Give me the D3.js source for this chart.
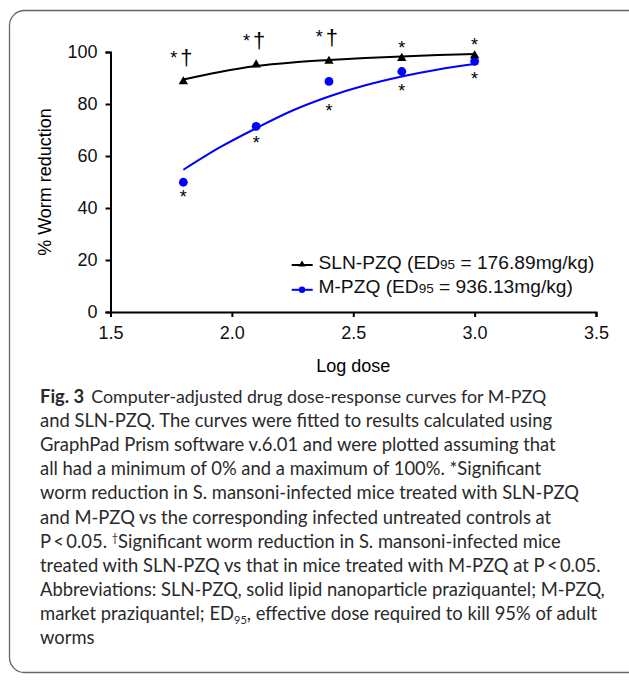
<!DOCTYPE html>
<html lang="en">
<head>
	<meta charset="UTF-8"/>
	<title>Dose-response curves M-PZQ vs SLN-PZQ</title>
	<script src="https://d3js.org/d3.v7.min.js"></script>
	<style>
		body { margin: 0; background: #fff; }
		svg { display: block; }
		.axis text { font-family: "Liberation Sans", Arial, sans-serif; font-size: 18px; fill: #111; }
		.axis path, .axis line { stroke: #000; stroke-width: 2px; }
		.caption { font-family: Lato, "Open Sans", sans-serif; font-size: 18.4px; fill: #2a2a2a; }
	</style>
</head>
<body>
<script>

	var w = 629;	// Width of the SVG
	var h = 683;	// Height of the SVG

	// log dose of each treated group
	var logDose = [1.8, 2.1, 2.4, 2.7, 3.0];
	// % worm reduction
	var slnValues = [88.6, 95.1, 96.5, 97.6, 98.6];
	var mValues = [49.9, 71.4, 88.7, 92.5, 96.4];

	// fitted curves
	var curveDose = [1.8, 1.95, 2.1, 2.25, 2.4, 2.55, 2.7, 2.85, 3.0];
	var slnCurve = [89.4, 92.3, 94.6, 96.0, 96.9, 97.7, 98.3, 98.8, 99.2];
	var mCurve = [54.7, 63.3, 70.7, 77.5, 82.9, 87.2, 90.6, 93.3, 95.4];

	// significance marks
	var slnMarks = ["*†", "*†", "*†", "*", "*"];
	var mMarks = ["*", "*", "*", "*", "*"];

	var xTicks = [1.5, 2.0, 2.5, 3.0, 3.5];
	var yTicks = [0, 20, 40, 60, 80, 100];

	var seriesNames = ["SLN-PZQ", "M-PZQ"];
	var ed95 = ["176.89", "936.13"];

	var captionLines = [
		"and SLN-PZQ. The curves were fitted to results calculated using",
		"GraphPad Prism software v.6.01 and were plotted assuming that",
		"all had a minimum of 0% and a maximum of 100%. *Significant",
		"worm reduction in S. mansoni-infected mice treated with SLN-PZQ",
		"and M-PZQ vs the corresponding infected untreated controls at"
	];

	var xScale = d3.scaleLinear()
				.domain([1.5, 3.5])
				.range([110.5, 596]);

	var yScale = d3.scaleLinear()
				.domain([0, 100])
				.range([312, 52]);

	var svg = d3.select("body")
				.append("svg")
				.attr("width", w)
				.attr("height", h);

	svg.append("rect")
		.attr("width", w)
		.attr("height", h)
		.attr("fill", "#fff");

	// rounded frame round the figure, right side runs off the page
	svg.append("rect")
		.attr("x", 9.5)
		.attr("y", 10.5)
		.attr("width", 700)
		.attr("height", 662)
		.attr("rx", 15)
		.attr("fill", "none")
		.attr("stroke", "#666")
		.attr("stroke-width", 1.3);

	// axes
	var xAxis = d3.axisBottom(xScale)
				.tickValues(xTicks)
				.tickFormat(d3.format(".1f"))
				.tickSize(5)
				.tickPadding(9);

	var yAxis = d3.axisLeft(yScale)
				.tickValues(yTicks)
				.tickSize(5)
				.tickPadding(8);

	svg.append("g")
		.attr("class", "axis")
		.attr("transform", "translate(0," + yScale(0) + ")")
		.call(xAxis);

	svg.append("g")
		.attr("class", "axis")
		.attr("transform", "translate(" + xScale(1.5) + ",0)")
		.call(yAxis);

	// axis labels
	svg.append("text")
		.attr("x", (xScale(1.5) + xScale(3.5)) / 2)
		.attr("y", 372)
		.attr("text-anchor", "middle")
		.style("font-family", "Liberation Sans, Arial, sans-serif")
		.style("font-size", "18px")
		.text("Log dose");

	svg.append("text")
		.attr("transform", "rotate(-90)")
		.attr("x", -(yScale(0) + yScale(100)) / 2)
		.attr("y", 51)
		.attr("text-anchor", "middle")
		.style("font-family", "Liberation Sans, Arial, sans-serif")
		.style("font-size", "18px")
		.text("% Worm reduction");

	// fitted curves
	var line = d3.line()
				.x(function(d) { return xScale(d[0]); })
				.y(function(d) { return yScale(d[1]); })
				.curve(d3.curveMonotoneX);

	svg.append("path")
		.datum(d3.zip(curveDose, slnCurve))
		.attr("d", line)
		.attr("fill", "none")
		.attr("stroke", "#000")
		.attr("stroke-width", 2);

	svg.append("path")
		.datum(d3.zip(curveDose, mCurve))
		.attr("d", line)
		.attr("fill", "none")
		.attr("stroke", "#0000ff")
		.attr("stroke-width", 2);

	// points
	var tri = d3.symbol().type(d3.symbolTriangle).size(38);

	svg.selectAll("circle.m")
		.data(d3.zip(logDose, mValues))
		.enter()
		.append("circle")
		.attr("class", "m")
		.attr("cx", function(d) { return xScale(d[0]); })
		.attr("cy", function(d) { return yScale(d[1]); })
		.attr("r", 4.4)
		.attr("fill", "#0000ff");

	svg.selectAll("path.sln")
		.data(d3.zip(logDose, slnValues))
		.enter()
		.append("path")
		.attr("class", "sln")
		.attr("d", tri)
		.attr("transform", function(d) {
			return "translate(" + xScale(d[0]) + "," + yScale(d[1]) + ")";
		})
		.attr("fill", "#000");

	// significance marks above the SLN points
	svg.selectAll("text.slnmark")
		.data(d3.zip(logDose, slnValues, slnMarks))
		.enter()
		.append("text")
		.attr("class", "slnmark")
		.attr("x", function(d) { return xScale(d[0]) - (d[2].length > 1 ? 2 : 0); })
		.attr("y", function(d) { return yScale(d[1]) - (d[2].length > 1 ? 16.5 : 4.5); })
		.attr("text-anchor", "middle")
		.style("font-family", "Liberation Sans, Arial, sans-serif")
		.style("font-size", "18px")
		.each(function(d) {
			var t = d3.select(this);
			if (d[2].length > 1) {
				t.append("tspan").attr("dy", -1.5).text("*");
				t.append("tspan").attr("dx", 3).attr("dy", 1.5).style("font-size", "22px").text("†");
			} else {
				t.append("tspan").text("*");
			}
		});

	// marks below the M-PZQ points (or below the curve when it is lower)
	svg.selectAll("text.mmark")
		.data(d3.zip(logDose, mValues, mMarks))
		.enter()
		.append("text")
		.attr("class", "mmark")
		.attr("x", function(d) { return xScale(d[0]); })
		.attr("y", function(d, i) {
			var c = mCurve[curveDose.indexOf(d[0])];
			return Math.max(yScale(d[1]), yScale(c)) + 20.8;
		})
		.attr("text-anchor", "middle")
		.style("font-family", "Liberation Sans, Arial, sans-serif")
		.style("font-size", "18px")
		.text(function(d) { return d[2]; });

	// legend
	var legColors = ["#000", "#0000ff"];
	var leg = svg.selectAll("g.legend")
				.data(seriesNames)
				.enter()
				.append("g")
				.attr("class", "legend")
				.attr("transform", function(d, i) { return "translate(0," + (268.5 + i * 24.8) + ")"; });

	leg.append("line")
		.attr("x1", 291.7)
		.attr("x2", 312.7)
		.attr("y1", -3.5)
		.attr("y2", -3.5)
		.attr("stroke", function(d, i) { return legColors[i]; })
		.attr("stroke-width", 2);

	leg.each(function(d, i) {
		var g = d3.select(this);
		if (i === 0) {
			g.append("path")
				.attr("d", d3.symbol().type(d3.symbolTriangle).size(22))
				.attr("transform", "translate(302,-4)")
				.attr("fill", "#000");
		} else {
			g.append("circle")
				.attr("cx", 302)
				.attr("cy", -3.5)
				.attr("r", 3.2)
				.attr("fill", "#0000ff");
		}
	});

	var legText = leg.append("text")
				.attr("x", 318.5)
				.attr("y", 0)
				.style("font-family", "Liberation Sans, Arial, sans-serif")
				.style("font-size", "19.2px")
				.style("fill", "#111");
	legText.append("tspan").text(function(d) { return d + " (ED"; });
	legText.append("tspan").style("font-size", "13.5px").text("95");
	legText.append("tspan").text(function(d, i) { return " = " + ed95[i] + "mg/kg)"; });

	// figure caption
	var cap = svg.append("g").attr("class", "caption");
	var capX = 40, capY = 403, capStep = 24.1;

	var first = cap.append("text").attr("x", capX).attr("y", capY);
	first.append("tspan").style("font-weight", "bold").text("Fig. 3");
	first.append("tspan").attr("dx", 7).style("font-size", "17.8px").text("Computer-adjusted drug dose-response curves for M-PZQ");

	cap.selectAll("text.cl")
		.data(captionLines)
		.enter()
		.append("text")
		.attr("class", "cl")
		.attr("x", capX)
		.attr("y", function(d, i) { return capY + (i + 1) * capStep; });

	var l7 = cap.append("text").attr("x", capX).attr("y", capY + 6 * capStep);
	l7.append("tspan").text("P\u2009<\u20090.05. ");
	l7.append("tspan").attr("dy", -6).style("font-size", "11px").text("†");
	l7.append("tspan").attr("dy", 6).text("Significant worm reduction in S. mansoni-infected mice");

	cap.append("text").attr("x", capX).attr("y", capY + 7 * capStep)
		.text("treated with SLN-PZQ vs that in mice treated with M-PZQ at P\u2009<\u20090.05.");
	cap.append("text").attr("x", capX).attr("y", capY + 8 * capStep)
		.text("Abbreviations: SLN-PZQ, solid lipid nanoparticle praziquantel; M-PZQ,");

	var l10 = cap.append("text").attr("x", capX).attr("y", capY + 9 * capStep);
	l10.append("tspan").text("market praziquantel; ED");
	l10.append("tspan").attr("dy", 4).style("font-size", "11px").text("95");
	l10.append("tspan").attr("dy", -4).text(", effective dose required to kill 95% of adult");

	cap.append("text").attr("x", capX).attr("y", capY + 10 * capStep).text("worms");

	cap.selectAll("text.cl").text(function(d) { return d; });

</script>
</body>
</html>
